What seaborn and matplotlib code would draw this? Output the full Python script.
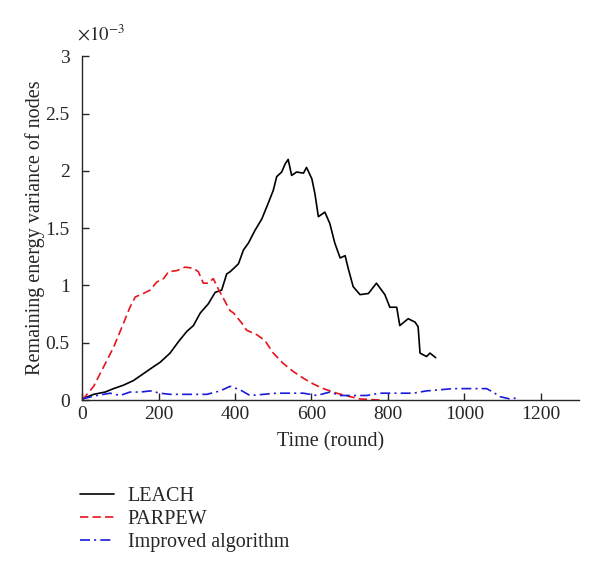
import numpy as np
import pandas as pd
import seaborn as sns
import matplotlib.pyplot as plt
from matplotlib.ticker import FuncFormatter, MultipleLocator

# values, variance in units of 1e-3
LEACH_T = [0, 30, 60, 82, 108, 134, 160, 186, 204, 230, 252, 274, 291, 309,
           330, 348, 365, 378, 387, 400, 409, 422, 435, 452, 470, 487, 500,
           509, 522, 531, 539, 548, 561, 579, 587, 601, 609, 618, 635, 648,
           661, 675, 688, 696, 709, 727, 749, 770, 792, 805, 823, 831, 853,
           871, 879, 884, 901, 910, 925]
LEACH_V = [0.01, 0.05, 0.07, 0.10, 0.13, 0.17, 0.23, 0.29, 0.33, 0.41, 0.51,
           0.60, 0.65, 0.76, 0.84, 0.94, 0.96, 1.10, 1.12, 1.16, 1.19, 1.31,
           1.37, 1.48, 1.58, 1.72, 1.83, 1.95, 1.99, 2.06, 2.10, 1.96, 1.99,
           1.98, 2.03, 1.93, 1.80, 1.60, 1.64, 1.54, 1.37, 1.24, 1.26, 1.15,
           0.99, 0.92, 0.93, 1.02, 0.92, 0.81, 0.81, 0.65, 0.71, 0.68, 0.64,
           0.41, 0.38, 0.41, 0.37]

PARPEW_T = [0, 30, 56, 82, 108, 125, 139, 160, 178, 195, 213, 226, 248, 269,
            291, 304, 317, 330, 343, 356, 369, 387, 396, 418, 430, 457, 478,
            500, 526, 552, 579, 605, 631, 666, 701, 727, 779]
PARPEW_V = [0.0, 0.12, 0.29, 0.46, 0.67, 0.81, 0.90, 0.93, 0.96, 1.03, 1.06,
            1.12, 1.13, 1.16, 1.15, 1.12, 1.02, 1.02, 1.06, 0.97, 0.89, 0.78,
            0.76, 0.67, 0.61, 0.57, 0.52, 0.41, 0.32, 0.25, 0.19, 0.14, 0.10,
            0.06, 0.03, 0.01, 0.0]

IMPROVED_T = [0, 38, 73, 99, 125, 152, 178, 204, 230, 265, 300, 326, 361,
              387, 413, 439, 474, 509, 544, 579, 614, 648, 675, 709, 744, 779,
              823, 866, 901, 936, 971, 1014, 1058, 1075, 1093, 1119, 1141]
IMPROVED_V = [0.01, 0.04, 0.06, 0.04, 0.07, 0.07, 0.08, 0.06, 0.05, 0.05,
              0.05, 0.05, 0.08, 0.12, 0.09, 0.04, 0.05, 0.06, 0.06, 0.06,
              0.04, 0.07, 0.04, 0.04, 0.04, 0.06, 0.06, 0.06, 0.08, 0.09,
              0.10, 0.10, 0.10, 0.07, 0.03, 0.01, 0.02]

SERIES = [
    ("LEACH", LEACH_T, LEACH_V, "black", "-"),
    ("PARPEW", PARPEW_T, PARPEW_V, "#e8141c", (0, (5, 2.5))),
    ("Improved algorithm", IMPROVED_T, IMPROVED_V, "#1a1adc", (0, (6, 2.5, 1.2, 2.5))),
]

sns.set_style("ticks")
plt.rcParams["font.family"] = ["Liberation Serif", "DejaVu Serif"]
plt.rcParams["mathtext.fontset"] = "stix"

fig = plt.figure(figsize=(6.0, 5.74), dpi=100)
ax = fig.add_axes([0.137, 0.303, 0.828, 0.599])

for name, t, v, color, ls in SERIES:
    df = pd.DataFrame({"t": t, "v": np.array(v) * 1e-3})
    sns.lineplot(data=df, x="t", y="v", ax=ax, color=color, linestyle=ls,
                 linewidth=1.2, sort=False, label=name)

ax.set_xlim(0, 1300)
ax.set_ylim(0, 3e-3)
ax.xaxis.set_major_locator(MultipleLocator(200))
ax.yaxis.set_major_locator(MultipleLocator(0.5e-3))
ax.yaxis.set_major_formatter(FuncFormatter(lambda y, _: f"{y * 1e3:g}"))
ax.tick_params(direction="in", length=5, width=1, labelsize=14)
ax.tick_params(axis="y", pad=9)
ax.tick_params(axis="x", pad=4)
sns.despine(ax=ax)
for s in ("left", "bottom"):
    ax.spines[s].set_linewidth(1.0)

ax.text(-0.01, 1.035, r"$\times10^{-3}$", transform=ax.transAxes,
        fontsize=13.5, ha="left", va="bottom")
ax.set_xlabel("Time (round)", fontsize=14.5, labelpad=7)
ax.set_ylabel("Remaining energy variance of nodes", fontsize=14.5, labelpad=0)

ax.legend(loc="upper left", bbox_to_anchor=(-0.02, -0.228), frameon=False,
          fontsize=14.5, handlelength=1.65, handletextpad=0.7, labelspacing=0.2,
          borderaxespad=0)

fig.savefig("out.png", dpi=100)
